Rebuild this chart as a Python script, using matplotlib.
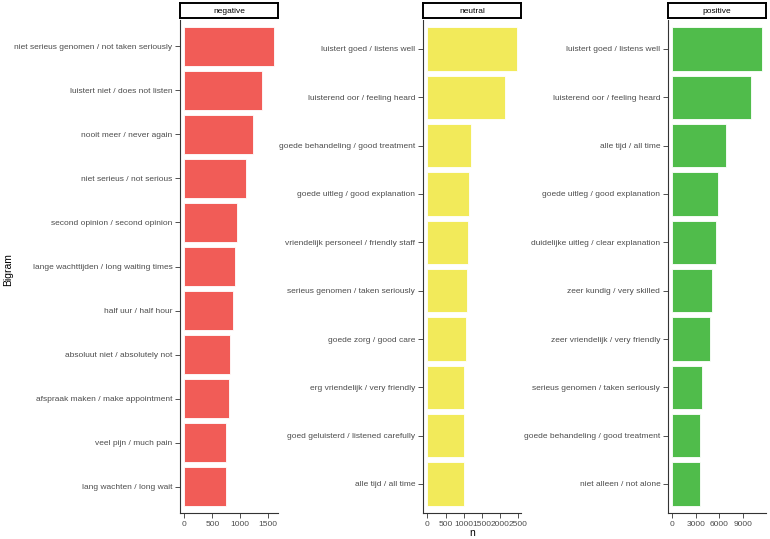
# top bigrams per sentiment, faceted like ggplot facet_wrap(scales = "free")
import matplotlib.pyplot as plt

plt.rcParams["font.family"] = ["Liberation Sans", "DejaVu Sans"]

# values read top to bottom
neg_labels = [
    "niet serieus genomen / not taken seriously",
    "luistert niet / does not listen",
    "nooit meer / never again",
    "niet serieus / not serious",
    "second opinion / second opinion",
    "lange wachttijden / long waiting times",
    "half uur / half hour",
    "absoluut niet / absolutely not",
    "afspraak maken / make appointment",
    "veel pijn / much pain",
    "lang wachten / long wait",
]
neg_n = [1600, 1385, 1230, 1110, 935, 900, 865, 818, 806, 748, 746]

neu_labels = [
    "luistert goed / listens well",
    "luisterend oor / feeling heard",
    "goede behandeling / good treatment",
    "goede uitleg / good explanation",
    "vriendelijk personeel / friendly staff",
    "serieus genomen / taken seriously",
    "goede zorg / good care",
    "erg vriendelijk / very friendly",
    "goed geluisterd / listened carefully",
    "alle tijd / all time",
]
neu_n = [2450, 2125, 1200, 1145, 1107, 1075, 1072, 1018, 1002, 1000]

pos_labels = [
    "luistert goed / listens well",
    "luisterend oor / feeling heard",
    "alle tijd / all time",
    "goede uitleg / good explanation",
    "duidelijke uitleg / clear explanation",
    "zeer kundig / very skilled",
    "zeer vriendelijk / very friendly",
    "serieus genomen / taken seriously",
    "goede behandeling / good treatment",
    "niet alleen / not alone",
]
pos_n = [11380, 10040, 6780, 5860, 5610, 5020, 4770, 3765, 3520, 3515]

panels = [
    ("negative", neg_labels, neg_n, "#F15C57", [0, 500, 1000, 1500], 180),
    ("neutral", neu_labels, neu_n, "#F2EA5A", [0, 500, 1000, 1500, 2000, 2500], 423),
    ("positive", pos_labels, pos_n, "#50BC4B", [0, 3000, 6000, 9000], 668),
]

W, H = 770, 539
fig = plt.figure(figsize=(W / 100, H / 100), dpi=100)

pw = 98
top, bottom = 20, 513
txt = "#4D4D4D"
fs = 6.0

for name, labels, vals, color, ticks, x0 in panels:
    ax = fig.add_axes([x0 / W, (H - bottom) / H, pw / W, (bottom - top) / H])
    pos = list(range(len(labels)))[::-1]
    ax.barh(pos, vals, height=0.9, color=color, edgecolor="white", linewidth=0.6)
    ax.set_ylim(-0.6, len(labels) - 0.4)
    m = max(vals)
    ax.set_xlim(-0.05 * m, 1.05 * m)
    ax.set_yticks(pos)
    ax.set_yticklabels(labels)
    ax.set_xticks(ticks)
    ax.tick_params(labelsize=fs, colors="#333333", labelcolor=txt, length=3.5, width=0.6, pad=2)
    for s in ["top", "right"]:
        ax.spines[s].set_visible(False)
    for s in ["left", "bottom"]:
        ax.spines[s].set_color("#333333")
        ax.spines[s].set_linewidth(0.8)

    # facet strip
    sx = fig.add_axes([x0 / W, (H - 18) / H, pw / W, 15 / H])
    sx.set_xticks([]); sx.set_yticks([])
    for s in sx.spines.values():
        s.set_linewidth(1.4)
        s.set_color("black")
    sx.text(0.5, 0.45, name, ha="center", va="center", fontsize=fs, transform=sx.transAxes)

fig.text(472 / W, 1 - 533 / H, "n", ha="center", va="center", fontsize=7.5)
fig.text(8 / W, 1 - 270 / H, "Bigram", ha="center", va="center", rotation=90, fontsize=7.5)

fig.savefig("out.png", dpi=100)
